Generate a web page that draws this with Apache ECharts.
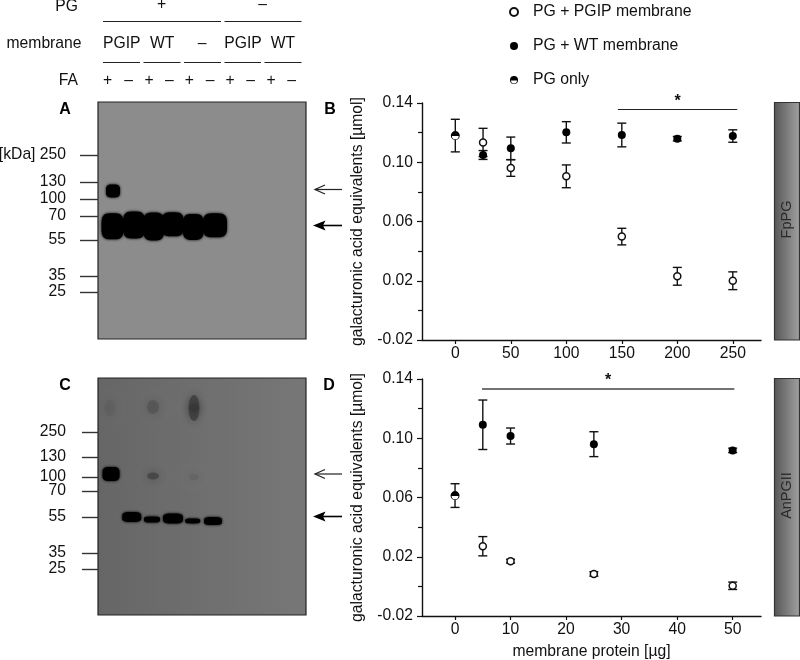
<!DOCTYPE html>
<html><head><meta charset="utf-8">
<style>html,body{margin:0;padding:0;background:#fff}#c{width:800px;height:660px}</style>
<script src="https://cdn.jsdelivr.net/npm/echarts@6/dist/echarts.min.js"></script>
</head><body><div id="c"></div>
<script>
// ---- panel B (FpPG) ----
const xTicksB = [0, 50, 100, 150, 200, 250];
const onlyXB = [0], onlyYB = [0.118], onlyEB = [0.011];
const pgipXB = [25, 50, 100, 150, 200, 250];
const pgipYB = [0.1134, 0.0961, 0.0905, 0.0498, 0.023, 0.020];
const pgipEB = [0.0095, 0.0056, 0.0077, 0.0056, 0.006, 0.006];
const wtXB = [25, 50, 100, 150, 200, 250];
const wtYB = [0.1049, 0.1094, 0.1202, 0.1184, 0.1159, 0.1177];
const wtEB = [0.003, 0.0076, 0.0072, 0.008, 0.0015, 0.0042];
const sigB = [[146.5, 0.1355], [254, 0.1355]];
// ---- panel D (AnPGII) ----
const xTicksD = [0, 10, 20, 30, 40, 50];
const onlyXD = [0], onlyYD = [0.0613], onlyED = [0.008];
const pgipXD = [5, 10, 25, 50];
const pgipYD = [0.0271, 0.017, 0.0084, 0.0004];
const pgipED = [0.0065, 0.0013, 0.0015, 0.0025];
const wtXD = [5, 10, 25, 50];
const wtYD = [0.1091, 0.1015, 0.096, 0.0918];
const wtED = [0.0167, 0.0054, 0.0084, 0.0015];
const sigD = [[4.86, 0.1334], [50.3, 0.1334]];
const yMajor = [-0.02, 0.02, 0.06, 0.10, 0.14];
// ---- gels: migration positions from the gel top and band shapes ----
const kdaA = ['[kDa] 250', '130', '100', '70', '55', '35', '25'];
const kdaPosA = [53, 80, 97, 114, 138, 174, 190];
const kdaC = ['250', '130', '100', '70', '55', '35', '25'];
const kdaPosC = [54, 79, 99, 113, 139, 175, 191];
const bandXA = [15, 14.5, 36, 55.7, 74.7, 95.3, 117];
const bandYA = [89, 124.3, 123, 124.5, 122.3, 125, 123.3];
const bandWA = [14, 22, 22, 21, 22, 21, 24];
const bandHA = [13, 26, 27, 28, 24, 26, 24];
const bandXC = [13, 33.7, 54, 75, 94.7, 115];
const bandYC = [96, 139, 141.5, 140.5, 143, 143];
const bandWC = [17, 19, 16, 20, 15, 18];
const bandHC = [14, 10, 6, 10, 5, 8];
const smearXC = [12, 55, 96, 55, 96, 96];
const smearYC = [30, 29, 30, 98, 30, 99];
const smearWC = [11, 12, 11, 12, 11, 10];
const smearHC = [16, 14, 26, 7, 8, 6];
const smearOC = [0.08, 0.22, 0.55, 0.45, 0.25, 0.1];

const FONT = 'Liberation Sans';
const INK = '#111';
const FS = 15.7;
const HALF = 'path://M0 10A10 10 0 1 1 20 10A10 10 0 1 1 0 10ZM17.5 11L2.5 11A7.5 7.5 0 0 0 17.5 11Z';
const BLOB = 'path://M38 0L62 0C90 0 100 12 100 38L100 62C100 88 90 100 62 100L38 100C10 100 0 88 0 62L0 38C0 12 10 0 38 0Z';
const N_PGIP = 'PG + PGIP membrane', N_WT = 'PG + WT membrane', N_ONLY = 'PG only';
const YTITLE = 'galacturonic acid equivalents [µmol]';

const triples = (x, y, e) => x.map((v, i) => [v, y[i], e[i]]);
const pairs = (x, y) => x.map((v, i) => [v, y[i]]);

function errSeries(x, y, e, xi, yi) {
  return {
    type: 'custom', xAxisIndex: xi, yAxisIndex: yi, clip: false, silent: true, z: 2,
    data: triples(x, y, e), encode: { x: 0, y: 1 },
    renderItem(params, api) {
      const a = api.coord([api.value(0), api.value(1) + api.value(2)]);
      const b = api.coord([api.value(0), api.value(1) - api.value(2)]);
      const st = { stroke: INK, lineWidth: 1.4, fill: null };
      const line = (x1, y1, x2, y2) => ({ type: 'line', shape: { x1, y1, x2, y2 }, style: st });
      return { type: 'group', children: [
        line(a[0], a[1], b[0], b[1]),
        line(a[0] - 4.5, a[1], a[0] + 4.5, a[1]),
        line(b[0] - 4.5, b[1], b[0] + 4.5, b[1])
      ] };
    }
  };
}
function ptSeries(name, x, y, xi, yi, kind, sig) {
  const s = { type: 'scatter', name, xAxisIndex: xi, yAxisIndex: yi, data: pairs(x, y), z: 4, silent: true };
  if (kind === 'open') {
    s.symbol = 'circle'; s.symbolSize = 7;
    s.itemStyle = { color: '#fff', borderColor: INK, borderWidth: 1.5, opacity: 1 };
  } else if (kind === 'fill') {
    s.symbol = 'circle'; s.symbolSize = 8;
    s.itemStyle = { color: '#000', opacity: 1 };
  } else {
    s.symbol = HALF; s.symbolSize = 9;
    s.itemStyle = { color: '#000', opacity: 1 }; s.z = 5;
  }
  if (sig) {
    s.markLine = {
      silent: true, symbol: 'none', animation: false,
      lineStyle: { type: 'solid', color: sig.color, width: sig.width },
      label: { show: true, formatter: '*', position: 'middle', distance: sig.dist, fontFamily: FONT, fontSize: 16, fontWeight: 'bold', color: INK },
      data: [[{ coord: sig.pts[0] }, { coord: sig.pts[1] }]]
    };
  }
  return s;
}
function baseSeries(x, y, xi, yi) {
  return { type: 'scatter', xAxisIndex: xi, yAxisIndex: yi, data: pairs(x, y), symbol: 'circle', symbolSize: 8, z: 3, silent: true, itemStyle: { color: '#fff', opacity: 1 } };
}
function bandSeries(xs, ys, ws, hs, xi, yi, blur) {
  return {
    type: 'scatter', xAxisIndex: xi, yAxisIndex: yi, silent: true, z: 3,
    data: xs.map((v, i) => ({ value: [v, ys[i]], symbol: BLOB, symbolSize: [ws[i], hs[i]] })),
    itemStyle: { color: '#000', opacity: 1, shadowBlur: blur, shadowColor: '#000' }
  };
}
function smearSeries(xs, ys, ws, hs, os, xi, yi) {
  return {
    type: 'scatter', xAxisIndex: xi, yAxisIndex: yi, silent: true, z: 2,
    data: xs.map((v, i) => ({ value: [v, ys[i]], symbol: 'circle', symbolSize: [ws[i], hs[i]], itemStyle: { opacity: os[i] } })),
    itemStyle: { color: '#2a2a2a', shadowBlur: 10, shadowColor: '#2a2a2a' }
  };
}
function sciX(min, max, ticks, gridIndex, extra) {
  return Object.assign({
    type: 'value', gridIndex, min, max, splitLine: { show: false },
    axisLine: { onZero: false, lineStyle: { color: INK, width: 1.4 } },
    axisTick: { length: 4, customValues: ticks, lineStyle: { color: INK, width: 1.2 } },
    axisLabel: { customValues: ticks, margin: 6, fontFamily: FONT, fontSize: FS, color: INK }
  }, extra || {});
}
function sciY(gridIndex) {
  return {
    type: 'value', gridIndex, min: -0.02, max: 0.14, interval: 0.04, splitLine: { show: false },
    name: YTITLE, nameLocation: 'middle', nameGap: 56, nameRotate: 90,
    nameTextStyle: { fontFamily: FONT, fontSize: FS, color: INK },
    axisLine: { show: true, onZero: false, lineStyle: { color: INK, width: 1.4 } },
    axisTick: { length: 5, lineStyle: { color: INK, width: 1.2 } },
    minorTick: { show: true, splitNumber: 2, length: 4, lineStyle: { color: INK, width: 1.2 } },
    axisLabel: { customValues: yMajor, margin: 9, formatter: v => v.toFixed(2), fontFamily: FONT, fontSize: FS, color: INK }
  };
}
function gelX(gridIndex) {
  return { type: 'value', gridIndex, min: 0, max: 208, show: false, splitLine: { show: false } };
}
function gelY(gridIndex, pos, labels, tickLen) {
  return {
    type: 'value', gridIndex, min: 0, max: 237, inverse: true, offset: 3, splitLine: { show: false },
    axisLine: { show: false },
    axisTick: { length: tickLen, customValues: pos, lineStyle: { color: '#333', width: 1.4 } },
    axisLabel: { customValues: pos, margin: 29, formatter: v => labels[pos.indexOf(v)], fontFamily: FONT, fontSize: FS, color: INK }
  };
}

// ---- fixed figure furniture ----
const T = (text, x, y, align, extra) => ({ type: 'text', silent: true, style: Object.assign({ text, x, y, textAlign: align || 'center', textVerticalAlign: 'middle', fontFamily: FONT, fontSize: FS, fill: INK }, extra || {}) });
const L = (x1, y1, x2, y2, w, c) => ({ type: 'line', silent: true, shape: { x1, y1, x2, y2 }, style: { stroke: c || '#222', lineWidth: w || 1.2 } });
const thinArrow = y => [L(342, y, 315, y, 1.2), { type: 'polyline', silent: true, shape: { points: [[325, y - 4.5], [315, y], [325, y + 4.5]] }, style: { stroke: '#222', lineWidth: 1.2, fill: null } }];
const boldArrow = y => [L(342, y, 322, y, 1.6, '#000'), { type: 'polygon', silent: true, shape: { points: [[313, y], [325.5, y - 5], [323, y], [325.5, y + 5]] }, style: { fill: '#000' } }];
const sideBar = (y, h, text, cy) => [
  { type: 'rect', silent: true, shape: { x: 774.5, y, width: 25, height: h }, style: { stroke: '#333', lineWidth: 1.2, fill: { type: 'linear', x: 0, y: 0, x2: 1, y2: 0, colorStops: [{ offset: 0, color: '#555' }, { offset: 1, color: '#a2a2a2' }] } } },
  { type: 'text', silent: true, x: 787, y: cy, rotation: Math.PI / 2, style: { text, x: 0, y: 0, textAlign: 'center', textVerticalAlign: 'middle', fontFamily: FONT, fontSize: 14.5, fill: '#2a2a2a' } }
];
const bold = { fontWeight: 'bold', fontSize: 16, fill: '#000' };
const faSigns = ['+', '–', '+', '–', '+', '–', '+', '–', '+', '–'];
const faX = [107.7, 128.7, 149, 169.3, 189.3, 210, 230, 250.7, 271, 291.7];
const furniture = [
  T('PG', 78, 7, 'right'), T('+', 161.5, 5), T('–', 262.7, 5),
  L(103, 21.5, 221, 21.5), L(224.5, 21.5, 301.5, 21.5),
  T('membrane', 81.5, 43.5, 'right'),
  T('PGIP', 103, 43.5, 'left'), T('WT', 150, 43.5, 'left'), T('–', 202, 43.5),
  T('PGIP', 224.3, 43.5, 'left'), T('WT', 270.7, 43.5, 'left'),
  L(103, 62.5, 140, 62.5), L(143.5, 62.5, 180.5, 62.5), L(184, 62.5, 221, 62.5), L(224.5, 62.5, 261, 62.5), L(264.5, 62.5, 301.5, 62.5),
  T('FA', 78, 81, 'right'),
  ...faSigns.map((s, i) => T(s, faX[i], 81)),
  T('A', 65, 110, 'center', bold), T('B', 330, 110, 'center', bold),
  T('C', 65, 386, 'center', bold), T('D', 329, 386, 'center', bold),
  ...thinArrow(189.5), ...boldArrow(225.5), ...thinArrow(474), ...boldArrow(516.5),
  ...sideBar(102.5, 237.5, 'FpPG', 219.5), ...sideBar(378.5, 237.5, 'AnPGII', 495.5)
];

const chart = echarts.init(document.getElementById('c'), null, { renderer: 'canvas' });
chart.setOption({
  animation: false,
  textStyle: { fontFamily: FONT },
  legend: {
    left: 509, top: 4, padding: 0, orient: 'vertical', itemWidth: 8, itemHeight: 8, itemGap: 18, selectedMode: false,
    textStyle: { fontFamily: FONT, fontSize: 15.8, color: INK, padding: [0, 0, 0, 10] },
    data: [{ name: N_PGIP, icon: 'circle' }, { name: N_WT, icon: 'circle' }, { name: N_ONLY, icon: HALF }]
  },
  grid: [
    { left: 98, top: 102, width: 208, height: 237, outerBoundsMode: 'none', show: true, backgroundColor: '#8c8c8c', borderColor: '#222', borderWidth: 1.2 },
    { left: 98, top: 378, width: 208, height: 237, outerBoundsMode: 'none', show: true, borderColor: '#222', borderWidth: 1.2,
      backgroundColor: { type: 'linear', x: 0, y: 0, x2: 1, y2: 0, colorStops: [{ offset: 0, color: '#666' }, { offset: 1, color: '#777' }] } },
    { left: 422, top: 103, width: 339, height: 237, outerBoundsMode: 'none' },
    { left: 422, top: 379, width: 339, height: 237, outerBoundsMode: 'none' }
  ],
  xAxis: [
    gelX(0), gelX(1),
    sciX(-30, 275.4, xTicksB, 2),
    sciX(-5.95, 55.1, xTicksD, 3, { name: 'membrane protein [µg]', nameLocation: 'middle', nameGap: 28, nameTextStyle: { fontFamily: FONT, fontSize: FS, color: INK } })
  ],
  yAxis: [
    gelY(0, kdaPosA, kdaA, 18), gelY(1, kdaPosC, kdaC, 16),
    sciY(2), sciY(3)
  ],
  series: [
    bandSeries(bandXA, bandYA, bandWA, bandHA, 0, 0, 3),
    smearSeries(smearXC, smearYC, smearWC, smearHC, smearOC, 1, 1),
    bandSeries(bandXC, bandYC, bandWC, bandHC, 1, 1, 3),
    errSeries(onlyXB, onlyYB, onlyEB, 2, 2),
    errSeries(pgipXB, pgipYB, pgipEB, 2, 2),
    errSeries(wtXB, wtYB, wtEB, 2, 2),
    baseSeries(onlyXB, onlyYB, 2, 2),
    ptSeries(N_PGIP, pgipXB, pgipYB, 2, 2, 'open'),
    ptSeries(N_WT, wtXB, wtYB, 2, 2, 'fill', { pts: sigB, color: '#222', width: 1.2, dist: 0 }),
    ptSeries(N_ONLY, onlyXB, onlyYB, 2, 2, 'half'),
    errSeries(onlyXD, onlyYD, onlyED, 3, 3),
    errSeries(pgipXD, pgipYD, pgipED, 3, 3),
    errSeries(wtXD, wtYD, wtED, 3, 3),
    baseSeries(onlyXD, onlyYD, 3, 3),
    ptSeries(N_PGIP, pgipXD, pgipYD, 3, 3, 'open'),
    ptSeries(N_WT, wtXD, wtYD, 3, 3, 'fill', { pts: sigD, color: '#444', width: 1.6, dist: 0 }),
    ptSeries(N_ONLY, onlyXD, onlyYD, 3, 3, 'half')
  ],
  graphic: { elements: furniture }
});
</script></body></html>
